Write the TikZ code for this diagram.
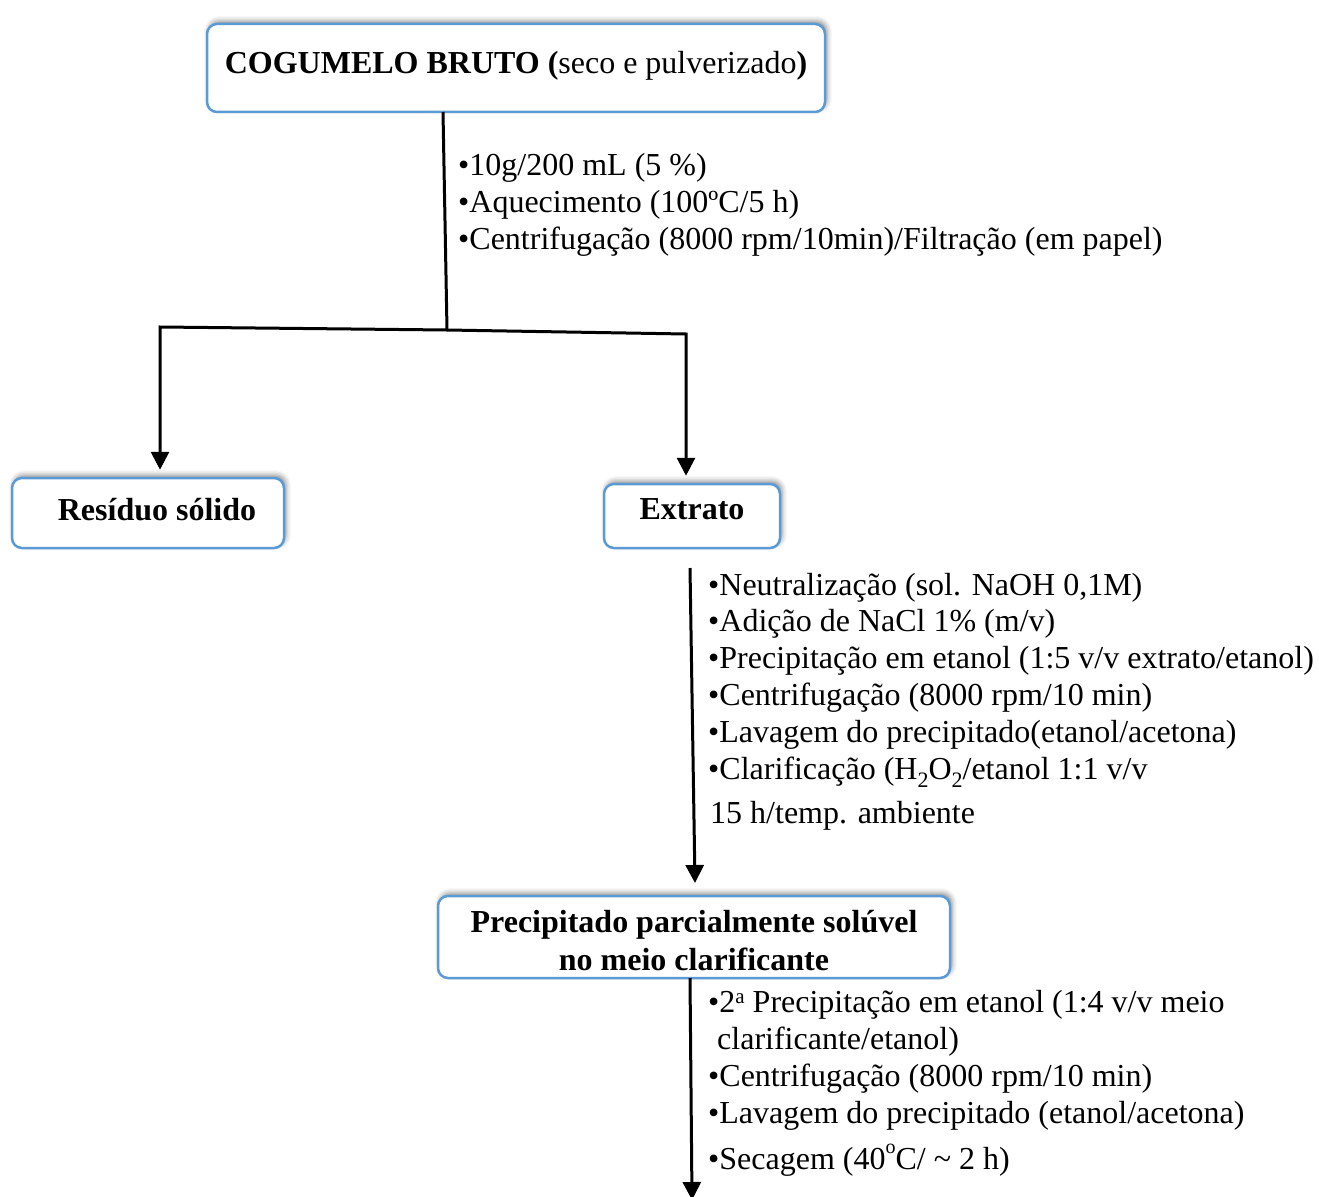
\documentclass[tikz,border=0pt]{standalone}
\usepackage{fontspec}
\setmainfont{Liberation Serif}
\usetikzlibrary{arrows.meta,shadows.blur}
\definecolor{boxblue}{RGB}{91,155,213}
\newcommand{\myfs}{\fontsize{32}{37}\selectfont}
\begin{document}
\begin{tikzpicture}[x=1pt,y=-1pt,
  box/.style={draw=boxblue, line width=2.5pt, rounded corners=10pt, fill=white,
    blur shadow={shadow xshift=2pt, shadow yshift=3pt, shadow blur radius=5pt, shadow opacity=45},
    font=\myfs\bfseries, inner sep=0pt, align=center},
  txt/.style={anchor=base west, inner sep=0pt, font=\myfs},
  ln/.style={line width=3pt, black, line join=miter},
  arr/.style={ln, -{Triangle[length=18pt,width=18pt]}}]
\path[use as bounding box] (0,0) rectangle (1319,1196);

% boxes
\node[box, minimum width=618pt, minimum height=88pt] (top) at (516,68)
  {\raisebox{2pt}[\height][\depth]{COGUMELO BRUTO (\textmd{seco e pulverizado})}};
\node[box, minimum width=272pt, minimum height=70pt] (res) at (148,513)
  {\hspace*{18pt}\raisebox{3pt}[\height][\depth]{Resíduo sólido}};
\node[box, minimum width=176pt, minimum height=64pt] (ext) at (692,516)
  {\raisebox{7pt}[\height][\depth]{Extrato}};
\node[box, minimum width=512pt, minimum height=82pt, font=\fontsize{32}{38}\selectfont\bfseries] (pre) at (694,937)
  {\raisebox{-4pt}[\height][\depth]{Precipitado parcialmente solúvel}\\ \raisebox{-4pt}[\height][\depth]{no meio clarificante}};

% first list
\node[txt] (l1a) at (458,175) {•10g/200 mL (5 \%)};
\node[txt] (l1b) at (458,212) {•Aquecimento (100ºC/5 h)};
\node[txt] (l1c) at (458,249) {•Centrifugação (8000 rpm/10min)/Filtração (em papel)};

% second list
\node[txt] (l2a) at (708,595) {•Neutralização (sol. NaOH 0,1M)};
\node[txt] (l2b) at (708,631) {•Adição de NaCl 1\% (m/v)};
\node[txt] (l2c) at (708,668) {•Precipitação em etanol (1:5 v/v extrato/etanol)};
\node[txt] (l2d) at (708,705) {•Centrifugação (8000 rpm/10 min)};
\node[txt] (l2e) at (708,742) {•Lavagem do precipitado(etanol/acetona)};
\node[txt] (l2f) at (708,779) {•Clarificação (H\raisebox{-8pt}{\fontsize{22}{22}\selectfont 2}O\raisebox{-8pt}{\fontsize{22}{22}\selectfont 2}/etanol 1:1 v/v};
\node[txt] (l2g) at (710,823) {15 h/temp. ambiente};

% third list
\node[txt] (l3a) at (708,1012) {•2\raisebox{9pt}{\fontsize{21}{21}\selectfont a} Precipitação em etanol (1:4 v/v meio};
\node[txt] (l3b) at (717,1049) {clarificante/etanol)};
\node[txt] (l3c) at (708,1086) {•Centrifugação (8000 rpm/10 min)};
\node[txt] (l3d) at (708,1123) {•Lavagem do precipitado (etanol/acetona)};
\node[txt] (l3e) at (708,1169) {•Secagem (40\raisebox{16pt}{\fontsize{20}{20}\selectfont o}C/ \textasciitilde\ 2 h)};

% connectors
\coordinate (a0) at (443,112);
\coordinate (j) at (447,330);
\coordinate (jl) at (160,327);
\coordinate (jr) at (686,334);
\draw[ln] (a0) -- (j);
\draw[arr, shorten >=7pt] (j) -- (jl) -- (jl |- res.north);
\draw[arr, shorten >=7pt] (j) -- (jr) -- (jr |- ext.north);

\coordinate (b0) at (690,568);
\coordinate (b1) at (695,883);
\draw[arr] (b0) -- (b1);

\coordinate (c0) at (690,978);
\coordinate (c1) at (692,1200);
\draw[arr] (c0) -- (c1);
\end{tikzpicture}
\end{document}
